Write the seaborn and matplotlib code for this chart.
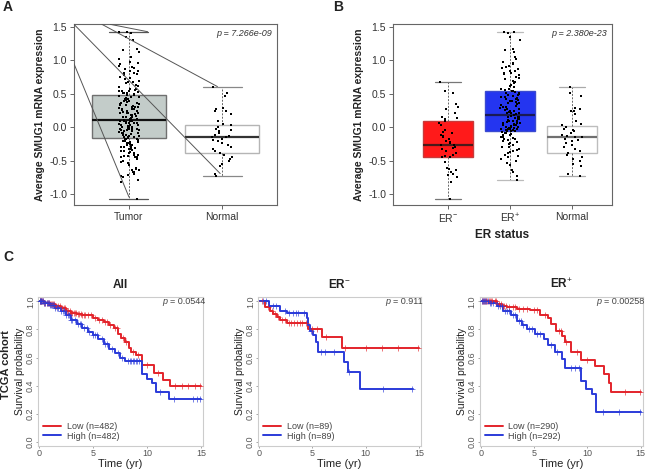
import numpy as np
import pandas as pd
import matplotlib
matplotlib.use("Agg")
import matplotlib.pyplot as plt
import seaborn as sns

# ---------------- panel A / B data ----------------
groups_a = ["Tumor", "Normal"]
groups_b = ["ER$^{-}$", "ER$^{+}$", "Normal"]

er_neg_vals = [0.68, 0.54, 0.52, 0.35, 0.31, 0.28, 0.22, 0.16, 0.14, 0.12, 0.10, 0.07,
               0.03, -0.04, -0.07, -0.09, -0.11, -0.13, -0.15, -0.18, -0.20, -0.22, -0.24,
               -0.26, -0.27, -0.29, -0.31, -0.33, -0.36, -0.39, -0.42, -0.43, -0.44, -0.45,
               -0.52, -0.60, -0.62, -0.64, -0.67, -0.69, -0.71, -0.74, -0.81, -1.07]
er_pos_vals = [1.43, 1.42, 1.41, 1.35, 1.30, 1.17, 1.15, 1.12, 1.05, 1.02, 0.98, 0.96,
               0.94, 0.92, 0.90, 0.88, 0.87, 0.85, 0.84, 0.82, 0.81, 0.80, 0.78, 0.76,
               0.74, 0.72, 0.70, 0.68, 0.66, 0.64, 0.62, 0.60, 0.58, 0.57, 0.56, 0.55,
               0.54, 0.53, 0.52, 0.51, 0.50, 0.49, 0.48, 0.47, 0.46, 0.45, 0.44, 0.43,
               0.42, 0.41, 0.40, 0.39, 0.38, 0.37, 0.36, 0.35, 0.34, 0.33, 0.32, 0.31,
               0.30, 0.29, 0.28, 0.27, 0.26, 0.25, 0.24, 0.23, 0.22, 0.21, 0.21, 0.20,
               0.19, 0.18, 0.17, 0.16, 0.15, 0.15, 0.14, 0.13, 0.12, 0.11, 0.10, 0.10,
               0.09, 0.08, 0.07, 0.06, 0.06, 0.05, 0.04, 0.03, 0.03, 0.02, 0.01, 0.00,
               0.00, -0.01, -0.01, -0.02, -0.02, -0.03, -0.03, -0.04, -0.04, -0.05, -0.05,
               -0.06, -0.07, -0.08, -0.09, -0.10, -0.11, -0.12, -0.13, -0.14, -0.15, -0.16,
               -0.17, -0.18, -0.19, -0.20, -0.22, -0.24, -0.25, -0.27, -0.29, -0.30, -0.32,
               -0.34, -0.36, -0.37, -0.39, -0.41, -0.43, -0.45, -0.48, -0.50, -0.53, -0.56,
               -0.63, -0.66, -0.72, -0.78]
normal_vals = [0.61, 0.52, 0.47, 0.29, 0.27, 0.25, 0.24, 0.20, 0.09, 0.05, 0.03, 0.01,
               -0.02, -0.04, -0.06, -0.09, -0.11, -0.13, -0.14, -0.15, -0.17, -0.19, -0.21,
               -0.24, -0.27, -0.30, -0.33, -0.36, -0.39, -0.42, -0.44, -0.47, -0.50, -0.55,
               -0.58, -0.70, -0.72]
tumor_vals = er_neg_vals + er_pos_vals

# box stats: whisker low, q1, median, q3, whisker high
tumor_box = [-1.07, -0.16, 0.11, 0.49, 1.43]
normal_box_a = [-0.72, -0.38, -0.14, 0.03, 0.61]
er_neg_box = [-1.07, -0.44, -0.26, 0.10, 0.68]
er_pos_box = [-0.78, -0.05, 0.19, 0.55, 1.43]
normal_box_b = [-0.72, -0.38, -0.14, 0.02, 0.61]

p_a = "p = 7.266e-09"
p_b = "p = 2.380e-23"

# stray connector lines that sit on panel A
stray_x = [[-0.59, 0.0], [-0.59, 0.98], [-0.29, 0.95], [-0.20, 0.20]]
stray_y = [[0.95, -1.04], [1.54, -0.69], [1.54, 0.61], [1.54, 1.43]]

# ---------------- panel C data: KM steps (time, survival) ----------------
all_low_t = [0, 0.5, 1.0, 1.5, 2.0, 2.5, 3.0, 3.5, 4.0, 4.6, 5.0, 5.5, 6.0, 6.5, 6.9,
             7.3, 7.6, 8.0, 8.3, 8.5, 9.0, 9.5, 10.6, 11.5, 12.1, 15.0]
all_low_s = [1.0, 0.99, 0.98, 0.965, 0.95, 0.93, 0.92, 0.91, 0.905, 0.90, 0.885, 0.87,
             0.85, 0.83, 0.81, 0.77, 0.74, 0.71, 0.67, 0.64, 0.62, 0.55, 0.49, 0.44,
             0.40, 0.40]
all_low_c = [0.05, 0.1, 0.15, 0.2, 0.3, 0.4, 0.5, 0.6, 0.7, 0.8, 0.9, 1.0, 1.1, 1.2, 1.3,
             1.4, 1.5, 1.6, 1.8, 1.9, 2.1, 2.3, 2.4, 2.6, 2.7, 2.9, 3.0, 3.1, 3.2, 3.3,
             3.4, 3.6, 3.7, 3.9, 4.0, 4.2, 4.3, 4.5, 4.8, 5.2, 5.6, 5.8, 6.1, 6.3, 6.6,
             7.0, 7.2, 7.8, 8.1, 8.7, 9.2, 10.0, 11.0, 12.6, 13.2, 13.8, 14.4, 14.9]
all_high_t = [0, 0.5, 1.0, 1.5, 2.0, 2.5, 3.0, 3.5, 4.0, 4.5, 5.0, 5.5, 6.0, 6.5, 7.0,
              7.5, 8.0, 9.5, 10.0, 10.5, 10.8, 12.0, 15.0]
all_high_s = [1.0, 0.99, 0.975, 0.955, 0.93, 0.90, 0.87, 0.84, 0.81, 0.78, 0.76, 0.73,
              0.70, 0.66, 0.63, 0.60, 0.575, 0.48, 0.445, 0.42, 0.355, 0.305, 0.305]
all_high_c = [0.05, 0.1, 0.15, 0.2, 0.3, 0.4, 0.5, 0.6, 0.7, 0.8, 0.9, 1.0, 1.1, 1.2,
              1.3, 1.4, 1.5, 1.7, 1.8, 2.0, 2.2, 2.3, 2.5, 2.7, 2.8, 3.0, 3.1, 3.3, 3.6,
              3.8, 3.9, 4.2, 4.4, 4.6, 5.0, 5.2, 5.4, 5.8, 6.1, 6.3, 6.8, 7.3, 7.7, 8.2,
              8.4, 8.5, 8.7, 8.8, 9.0, 9.1, 9.3, 11.2, 12.5, 14.3, 14.6, 14.9]

neg_low_t = [0, 0.55, 1.0, 1.35, 1.65, 2.0, 2.6, 4.6, 5.9, 7.75, 15.0]
neg_low_s = [1.0, 0.96, 0.93, 0.91, 0.89, 0.87, 0.845, 0.805, 0.745, 0.665, 0.665]
neg_low_c = [0.3, 0.8, 1.2, 1.5, 1.8, 2.2, 2.4, 2.8, 3.0, 3.3, 3.6, 3.8, 4.0, 4.4, 5.0,
             5.4, 6.3, 8.1, 10.0, 11.5, 13.0, 14.9]
neg_high_t = [0, 0.9, 2.0, 2.6, 4.5, 4.6, 4.75, 5.1, 5.3, 5.5, 8.0, 8.3, 9.5, 14.4]
neg_high_s = [1.0, 0.97, 0.935, 0.917, 0.88, 0.83, 0.786, 0.76, 0.71, 0.643, 0.57, 0.50,
              0.376, 0.376]
neg_high_c = [0.4, 0.7, 1.3, 1.6, 2.4, 2.8, 3.2, 3.5, 3.7, 4.2, 4.9, 5.8, 6.2, 7.0, 8.4,
              11.6, 14.3]

pos_low_t = [0, 1.5, 2.0, 2.5, 3.4, 4.6, 5.6, 6.3, 6.6, 7.1, 7.6, 7.9, 8.5, 9.4, 10.7,
             11.6, 12.0, 12.2, 15.0]
pos_low_s = [1.0, 0.98, 0.97, 0.957, 0.945, 0.94, 0.90, 0.88, 0.84, 0.79, 0.755, 0.71,
             0.64, 0.586, 0.538, 0.48, 0.42, 0.357, 0.357]
pos_low_c = [0.1, 0.2, 0.3, 0.4, 0.5, 0.6, 0.8, 0.9, 1.0, 1.1, 1.3, 1.4, 1.7, 1.9, 2.1,
             2.2, 2.4, 2.7, 3.0, 3.2, 3.6, 4.0, 4.3, 5.0, 5.3, 6.0, 7.3, 7.5, 8.0, 9.0,
             10.0, 13.5, 14.9]
pos_high_t = [0, 0.8, 1.5, 2.1, 2.8, 3.4, 3.9, 4.3, 5.1, 5.9, 6.3, 7.0, 7.6, 7.9, 9.4,
              9.9, 10.4, 10.8, 15.0]
pos_high_s = [1.0, 0.99, 0.97, 0.93, 0.90, 0.86, 0.83, 0.80, 0.77, 0.73, 0.69, 0.64,
              0.59, 0.526, 0.43, 0.375, 0.34, 0.21, 0.21]
pos_high_c = [0.1, 0.2, 0.3, 0.4, 0.5, 0.7, 0.9, 1.0, 1.2, 1.6, 1.8, 2.0, 2.3, 2.5, 2.7,
              3.0, 3.2, 3.6, 3.8, 4.0, 4.5, 4.8, 5.3, 5.6, 6.6, 7.2, 8.5, 8.8, 9.2, 11.5,
              13.0, 14.9]

km_titles = ["All", "ER$^{-}$", "ER$^{+}$"]
km_n_low = [482, 89, 290]
km_n_high = [482, 89, 292]
km_p = ["0.0544", "0.911", "0.00258"]

RED = "#e3242b"
BLUE = "#2b3bd9"

sns.set_style("ticks")
plt.rcParams["font.family"] = ["Liberation Sans", "DejaVu Sans"]
plt.rcParams["mathtext.fontset"] = "custom"
plt.rcParams["mathtext.rm"] = "Liberation Sans"
plt.rcParams["mathtext.it"] = "Liberation Sans:italic"
plt.rcParams["mathtext.bf"] = "Liberation Sans:bold"
plt.rcParams["axes.unicode_minus"] = False

W, H = 650, 471
fig = plt.figure(figsize=(6.5, 4.71), dpi=100)


def px_box(l, r, t, b):
    return [l / W, 1 - b / H, (r - l) / W, (b - t) / H]


def to_stats(v):
    return dict(whislo=v[0], q1=v[1], med=v[2], q3=v[3], whishi=v[4])


def box_panel(ax, names, values, boxes, face, edge, med_col, cap_col, jitter, xlim):
    df = pd.DataFrame({"grp": np.repeat(names, [len(v) for v in values]),
                       "val": np.concatenate(values)})
    sns.stripplot(data=df, x="grp", y="val", order=names, color="black", size=2.1,
                  jitter=jitter, marker="s", linewidth=0, zorder=4, ax=ax)
    bp = ax.bxp([to_stats(b) for b in boxes], positions=range(len(names)), widths=0.8,
                capwidths=0.42, patch_artist=True, showfliers=False, manage_ticks=False)
    for i in range(len(names)):
        bp["boxes"][i].set(facecolor=face[i], edgecolor=edge[i], linewidth=1.0, zorder=2)
        bp["medians"][i].set(color=med_col[i], linewidth=1.6, zorder=3)
        for w in bp["whiskers"][2 * i:2 * i + 2]:
            w.set(color="#666666", linewidth=0.7, linestyle=(0, (2, 1.5)))
        for c in bp["caps"][2 * i:2 * i + 2]:
            c.set(color=cap_col[i], linewidth=0.9)
    ax.set_xlim(xlim)
    ax.set_ylim(-1.16, 1.545)
    yt = [-1.0, -0.5, 0.0, 0.5, 1.0, 1.5]
    ax.set_yticks(yt)
    ax.set_yticklabels([f"{v:.1f}" for v in yt])
    ax.set_xticks(range(len(names)))
    ax.set_xticklabels(names)
    ax.set_xlabel("")
    ax.set_ylabel("Average SMUG1 mRNA expression", fontsize=7.5, fontweight="bold",
                  color="#222222", labelpad=3)
    for s in ax.spines.values():
        s.set_visible(True)
        s.set_color("#666666")
        s.set_linewidth(0.8)
    ax.tick_params(length=3, width=0.7, color="#666666", labelsize=7.5,
                   labelcolor="#333333", pad=2)


# ---- panel A ----
ax_a = fig.add_axes(px_box(74, 277, 24, 205))
box_panel(ax_a, groups_a, [tumor_vals, normal_vals], [tumor_box, normal_box_a],
          face=["#c3ccc9", "white"], edge=["#707070", "#b5b5b5"],
          med_col=["#111111", "#333333"], cap_col=["#555555", "#888888"],
          jitter=0.11, xlim=(-0.59, 1.59))
for xs, ys in zip(stray_x, stray_y):
    ax_a.plot(xs, ys, color="#555555", lw=0.7, zorder=5)
ax_a.text(0.974, 0.945, p_a, transform=ax_a.transAxes, ha="right", va="center",
          fontsize=6.5, style="italic", color="#333333")

# ---- panel B ----
ax_b = fig.add_axes(px_box(393, 612, 24, 205))
box_panel(ax_b, groups_b, [er_neg_vals, er_pos_vals, normal_vals],
          [er_neg_box, er_pos_box, normal_box_b],
          face=["#ff1a1a", "#2435f0", "white"], edge=["#c83a3a", "#3a4ad0", "#bdbdbd"],
          med_col=["#4a1a1a", "#1a1a55", "#707070"], cap_col=["#777777", "#bbbbbb", "#aaaaaa"],
          jitter=0.16, xlim=(-0.887, 2.64))
ax_b.set_xlabel("ER status", fontsize=8.5, fontweight="bold", color="#222222", labelpad=3)
ax_b.text(0.977, 0.945, p_b, transform=ax_b.transAxes, ha="right", va="center",
          fontsize=6.5, style="italic", color="#333333")


# ---- panel C ----
def km_panel(ax, curves, title, ptext):
    handles = []
    for t, s, ct, col, lab in curves:
        t = np.asarray(t)
        s = np.asarray(s)
        sns.lineplot(x=t, y=s, drawstyle="steps-post", color=col, lw=1.4,
                     estimator=None, sort=False, ax=ax)
        handles.append((ax.get_lines()[-1], lab))
        idx = np.searchsorted(t, ct, side="right") - 1
        sns.scatterplot(x=ct, y=s[idx], marker="+", color=col, s=16, linewidth=0.6,
                        alpha=0.75, zorder=3, ax=ax)
    leg = ax.legend([h for h, _ in handles], [l for _, l in handles], loc="lower left",
                    frameon=False, fontsize=6.5, handlelength=2.0, handletextpad=0.6,
                    labelspacing=0.1, borderaxespad=0.2)
    for txt in leg.get_texts():
        txt.set_color("#444444")
    ax.set_xlim(-0.1, 15.2)
    ax.set_ylim(-0.03, 1.035)
    ax.set_xticks([0, 5, 10, 15])
    ax.set_xticklabels(["0", "5", "10", "15"])
    yt = [0.0, 0.2, 0.4, 0.6, 0.8, 1.0]
    ax.set_yticks(yt)
    ax.set_yticklabels([f"{v:.1f}" for v in yt], rotation=90, va="center")
    ax.tick_params(length=1.5, width=0.6, color="#999999", labelsize=6.5,
                   labelcolor="#555555", pad=0.6)
    for sp in ax.spines.values():
        sp.set_visible(True)
        sp.set_color("#cccccc")
        sp.set_linewidth(0.8)
    ax.set_xlabel("Time (yr)", fontsize=8, color="#222222", labelpad=1)
    ax.set_ylabel("Survival probability", fontsize=7.5, color="#222222", labelpad=0.8)
    ax.set_title(title, fontsize=8.5, fontweight="bold", color="#222222", pad=6)
    pt = ax.text(1.01, 0.965, "= " + ptext, transform=ax.transAxes, ha="right",
                 va="center", fontsize=6.5, color="#444444")
    ax.annotate("p", xy=(0, 0.5), xycoords=pt, xytext=(-2, 0), textcoords="offset points",
                ha="right", va="center", fontsize=6.5, style="italic", color="#444444")


km_data = [
    [(all_low_t, all_low_s, all_low_c), (all_high_t, all_high_s, all_high_c)],
    [(neg_low_t, neg_low_s, neg_low_c), (neg_high_t, neg_high_s, neg_high_c)],
    [(pos_low_t, pos_low_s, pos_low_c), (pos_high_t, pos_high_s, pos_high_c)],
]
km_boxes = [(37.9, 203.2), (257.9, 421.1), (479.6, 642.8)]

for i in range(3):
    ax = fig.add_axes(px_box(km_boxes[i][0], km_boxes[i][1], 296.5, 446))
    lo, hi = km_data[i]
    curves = [(lo[0], lo[1], lo[2], RED, f"Low (n={km_n_low[i]})"),
              (hi[0], hi[1], hi[2], BLUE, f"High (n={km_n_high[i]})")]
    km_panel(ax, curves, km_titles[i], km_p[i])

fig.text(6 / W, 1 - 365 / H, "TCGA cohort", rotation=90, ha="center", va="center",
         fontsize=8, fontweight="bold", color="#222222")

for lab, x, y in [("A", 3, 7), ("B", 333, 7), ("C", 3, 257)]:
    fig.text(x / W, 1 - y / H, lab, ha="left", va="center", fontsize=10,
             fontweight="bold", color="#222222")

fig.savefig("out.png", dpi=100)
